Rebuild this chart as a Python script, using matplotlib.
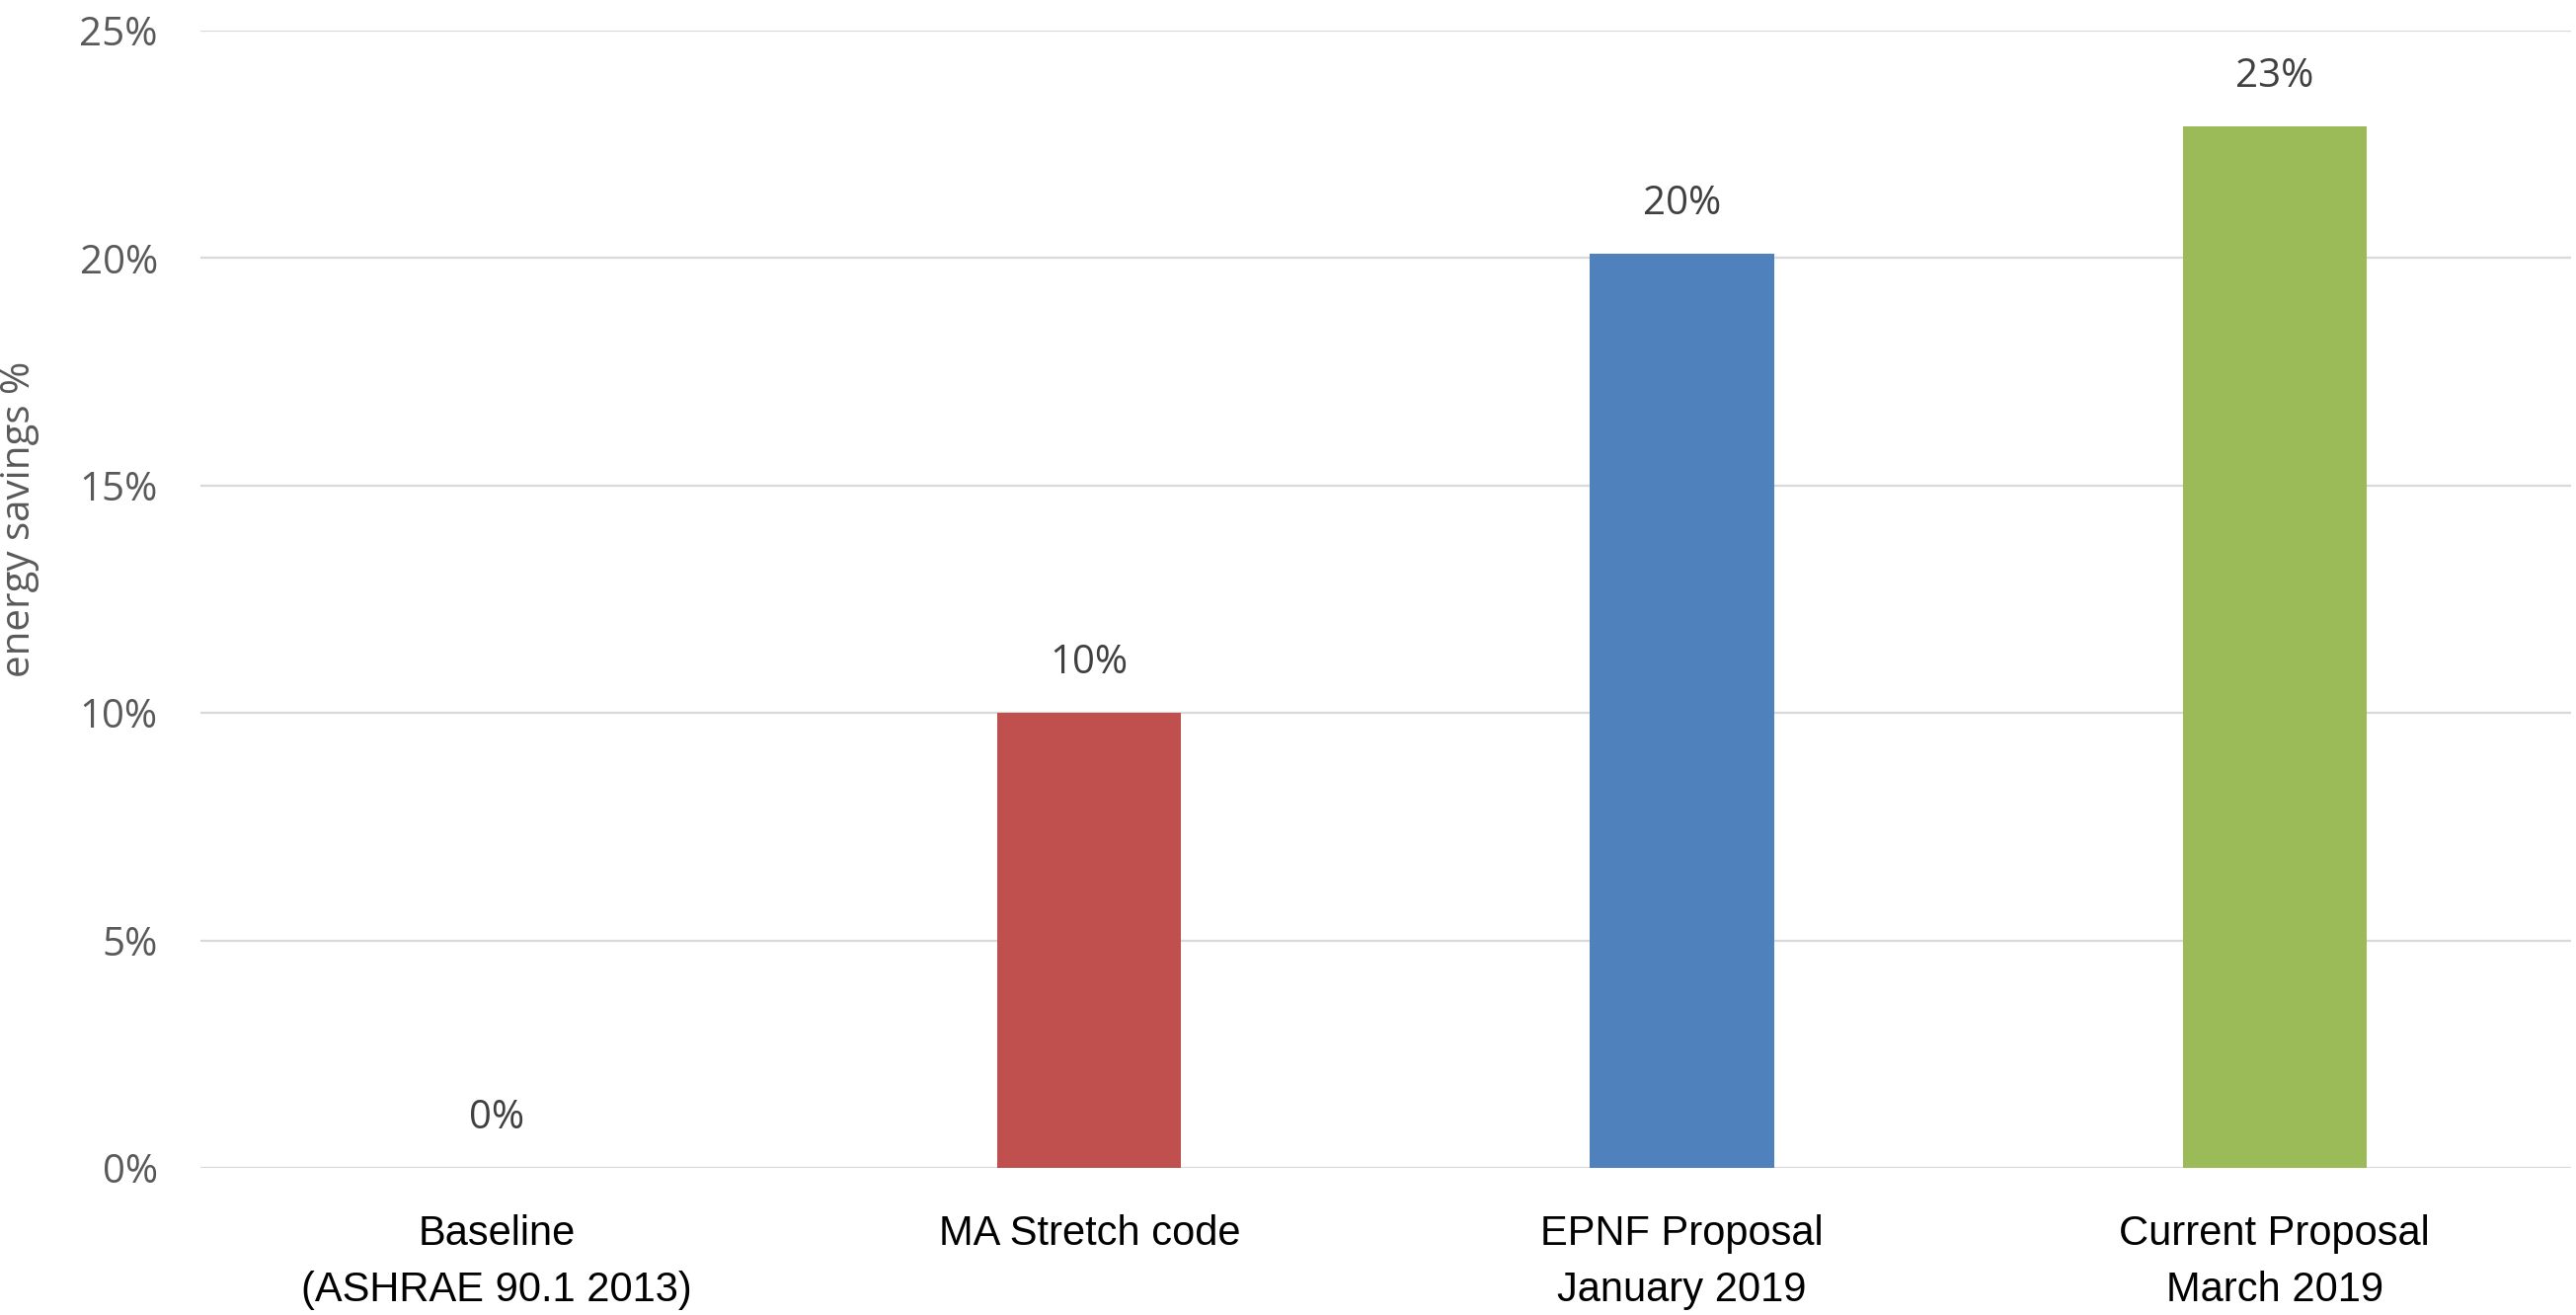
import matplotlib
matplotlib.use("Agg")
import matplotlib.pyplot as plt

categories = ["Baseline\n(ASHRAE 90.1 2013)", "MA Stretch code",
              "EPNF Proposal\nJanuary 2019", "Current Proposal\nMarch 2019"]
values = [0.0, 10.0, 20.1, 22.9]
value_labels = ["0%", "10%", "20%", "23%"]
bar_colors = ["#C0504D", "#C0504D", "#4F81BD", "#9BBB59"]
yticks = [0, 5, 10, 15, 20, 25]
ytick_labels = ["0%", "5%", "10%", "15%", "20%", "25%"]

fig = plt.figure(figsize=(26.09, 13.32), dpi=100)
ax = fig.add_axes([0.0778, 0.1119, 0.9202, 0.8648])

x = range(len(categories))
bars = ax.bar(x, values, width=0.31, color=bar_colors, zorder=3)

ax.set_xlim(-0.5, len(categories) - 0.5)
ax.set_ylim(0, 25)
ax.set_yticks(yticks)
ax.set_yticklabels(ytick_labels, fontfamily="Open Sans", fontsize=29, color="#595959")
ax.set_xticks(list(x))
ax.set_xticklabels(categories, fontfamily="Liberation Sans", fontsize=30, color="#000000",
                   linespacing=1.55)
ax.tick_params(axis="y", length=0, pad=31)
ax.tick_params(axis="x", length=0, pad=34)

ax.grid(axis="y", color="#D9D9D9", linewidth=1.6, zorder=0)
ax.set_axisbelow(True)
for s in ax.spines.values():
    s.set_visible(False)

for xi, v, lab in zip(x, values, value_labels):
    ax.annotate(lab, (xi, v), xytext=(0, 36), textcoords="offset points",
                ha="center", va="center", fontfamily="Open Sans", fontsize=29,
                color="#404040")

ax.set_ylabel("energy savings %", fontfamily="Open Sans", fontsize=29, color="#595959")
ax.yaxis.set_label_coords(-0.068, 0.57)

fig.savefig("out.png", dpi=100)
